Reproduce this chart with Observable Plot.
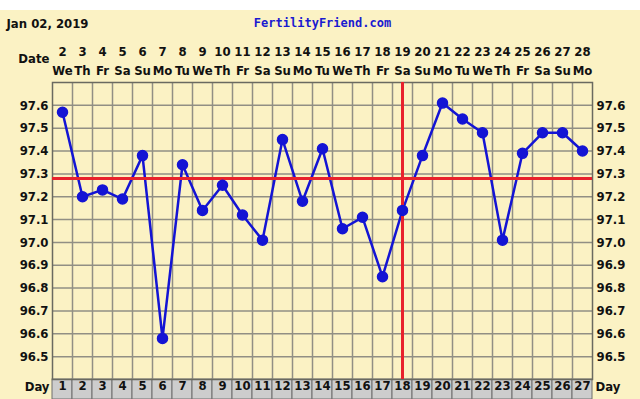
<!DOCTYPE html>
<html>
<head>
<meta charset="utf-8">
<script src="https://cdn.jsdelivr.net/npm/d3@7"></script>
<script src="https://cdn.jsdelivr.net/npm/@observablehq/plot@0.6"></script>
<style>
  html, body { margin: 0; padding: 0; background: #fff; }
</style>
</head>
<body>
<div id="chart"></div>
<script>
const chartTitle = "Jan 02, 2019";
const siteName = "FertilityFriend.com";
const days = [1,2,3,4,5,6,7,8,9,10,11,12,13,14,15,16,17,18,19,20,21,22,23,24,25,26,27];
const dates = [2,3,4,5,6,7,8,9,10,11,12,13,14,15,16,17,18,19,20,21,22,23,24,25,26,27,28];
const weekdays = ["We","Th","Fr","Sa","Su","Mo","Tu","We","Th","Fr","Sa","Su","Mo","Tu","We","Th","Fr","Sa","Su","Mo","Tu","We","Th","Fr","Sa","Su","Mo"];
const temps = [97.57,97.20,97.23,97.19,97.38,96.58,97.34,97.14,97.25,97.12,97.01,97.45,97.18,97.41,97.06,97.11,96.85,97.14,97.38,97.61,97.54,97.48,97.01,97.39,97.48,97.48,97.40];
const yTicks = [96.5,96.6,96.7,96.8,96.9,97.0,97.1,97.2,97.3,97.4,97.5,97.6];
const yDomain = [96.4, 97.7];
const coverline = 97.28;
const ovulationDay = 18;

const data = days.map((d, i) => ({day: d, date: dates[i], wd: weekdays[i], temp: temps[i]}));

const W = 640, H = 399, mT = 82, mB = 20, mL = 52, mR = 48;
const frameH = H - mT - mB;
const blue = "#1414d4";
const red = "#e8222c";
const grid = "#918f84";

const chart = Plot.plot({
  width: W, height: H,
  marginTop: mT, marginBottom: mB, marginLeft: mL, marginRight: mR,
  x: {domain: [days[0] - 0.5, days[days.length - 1] + 0.5], axis: null},
  y: {domain: yDomain, axis: null},
  style: {
    fontFamily: "'DejaVu Sans Condensed', 'DejaVu Sans'",
    fontSize: "13px",
    fontWeight: "bold",
    color: "#111",
    background: "linear-gradient(#ffffff 0px, #ffffff 10px, #fbf2c4 10px)"
  },
  marks: [
    Plot.rect(days, {x1: d => d - 0.5, x2: d => d + 0.5, fill: "#cdcdcd", stroke: "#6f6f6f", strokeWidth: 1, insetTop: frameH, insetBottom: -mB}),
    Plot.ruleY(yTicks, {stroke: grid, strokeWidth: 1.5}),
    Plot.ruleX(days.slice(0, -1), {x: d => d + 0.5, stroke: grid, strokeWidth: 1.5}),
    Plot.frame({stroke: "#6a6a60", strokeWidth: 1.5}),
    Plot.line(data, {x: "day", y: "temp", stroke: blue, strokeWidth: 2.5}),
    Plot.ruleY([coverline], {stroke: red, strokeWidth: 3}),
    Plot.ruleX([ovulationDay], {stroke: red, strokeWidth: 3}),
    Plot.dot(data, {x: "day", y: "temp", r: 5, fill: blue, stroke: blue}),
    Plot.text(data, {x: "day", text: "date", frameAnchor: "top", dy: -36, fill: "#111"}),
    Plot.text(data, {x: "day", text: "wd", frameAnchor: "top", dy: -17, fill: "#111"}),
    Plot.text(["Date"], {frameAnchor: "top-left", dx: -3, dy: -29, textAnchor: "end", fill: "#111"}),
    Plot.text(yTicks, {y: d => d, text: d => d.toFixed(1), frameAnchor: "left", dx: -4, textAnchor: "end", fill: "#111"}),
    Plot.text(yTicks, {y: d => d, text: d => d.toFixed(1), frameAnchor: "right", dx: 4, textAnchor: "start", fill: "#111"}),
    Plot.text(days, {x: d => d, text: d => String(d), frameAnchor: "bottom", dy: 10, fill: "#111"}),
    Plot.text(["Day"], {frameAnchor: "bottom-left", dx: -3, dy: 11, textAnchor: "end", fill: "#111"}),
    Plot.text(["Day"], {frameAnchor: "bottom-right", dx: 3, dy: 11, textAnchor: "start", fill: "#111"}),
    Plot.text([chartTitle], {frameAnchor: "top-left", dx: -46, dy: -64, textAnchor: "start", fontSize: 13, fill: "#111"}),
    Plot.text([siteName], {frameAnchor: "top", dy: -64, fontFamily: "'DejaVu Sans Mono'", fontSize: 12, fill: "#1a1ad0"})
  ]
});
document.getElementById("chart").appendChild(chart);
</script>
</body>
</html>
